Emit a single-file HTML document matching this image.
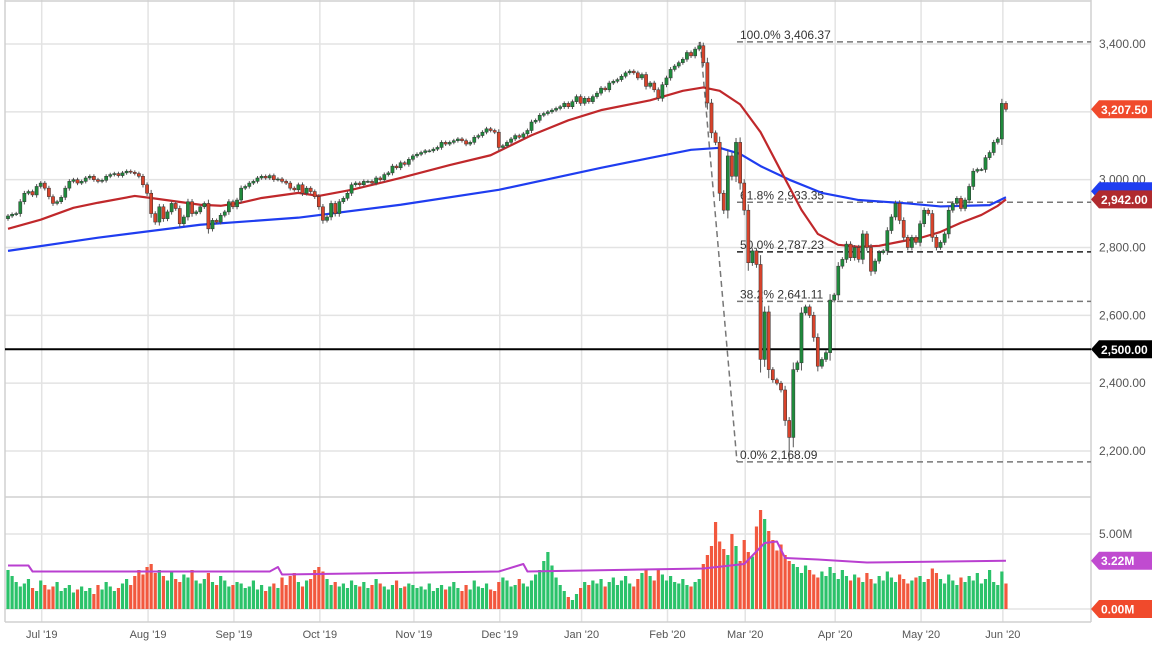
<!DOCTYPE html>
<html><head><meta charset="utf-8">
<style>
html,body{margin:0;padding:0;background:#fff;}
svg{display:block;font-family:"Liberation Sans",sans-serif;}
</style></head>
<body>
<svg id="chart" width="1157" height="651" viewBox="0 0 1157 651" xmlns="http://www.w3.org/2000/svg"></svg>
<script>
// ---- data ----
const monthLabels = ["Jul '19","Aug '19","Sep '19","Oct '19","Nov '19","Dec '19","Jan '20","Feb '20","Mar '20","Apr '20","May '20","Jun '20"];
const monthStartIndex = [8,34,55,76,99,120,140,161,180,202,223,243];
const priceTicks = [3400,3200,3000,2800,2600,2400,2200];
const volTicks = [5,0];
const closes = [
2893,2898,2900,2935,2960,2965,2955,2980,
2990,2975,2950,2930,2935,2948,2975,2995,3000,2990,2995,3005,3010,3000,2995,2998,3010,3015,3018,3012,3020,3025,3022,3018,3010,2985,
2960,2900,2875,2920,2885,2905,2930,2915,2870,2890,2935,2900,2905,2920,2930,2855,2880,2875,2895,2905,2935,
2920,2940,2975,2980,2990,2995,3005,3010,3005,3012,3000,3002,2995,2990,2975,2970,2985,2960,2975,2965,2950,
2920,2880,2890,2930,2900,2935,2945,2960,2985,2990,2985,2995,2995,2990,3005,3000,3015,3020,3040,3035,3050,3045,3060,
3070,3075,3080,3085,3085,3090,3095,3110,3105,3110,3115,3120,3115,3105,3110,3125,3130,3140,3150,3145,3140,
3095,3100,3110,3120,3130,3125,3135,3145,3170,3175,3190,3195,3200,3205,3210,3215,3225,3215,3230,3245,
3225,3240,3230,3245,3255,3270,3265,3285,3290,3295,3305,3315,3320,3315,3300,3310,3275,3285,3265,3240,3280,
3300,3325,3335,3345,3355,3375,3365,
3385,3395,3345,3226,3138,3110,2960,2910,3070,3010,3110,2990,2910,2755,2790,2750,2470,2610,2440,2410,2400,2380,2290,2240,2440,2460,2607,2625,2600,2535,2450,2470,2490,2645,2660,2745,2765,2810,2770,2800,2765,2840,2800,2730,2760,2785,2790,2850,2890,2930,2880,2830,2800,2830,2815,2870,2910,2900,2830,2800,2815,2840,2910,2930,2945,2915,2940,2980,3025,3030,3030,3065,3080,3110,3120,3225,3207.5
];
const firstOpen = 2885;
const extremeIdx = [169,191];
const extremeHigh = [3406,2300];
const extremeLow = [3380,2168];
const volumes = [
2.6,2.2,1.8,1.5,1.7,2.0,1.4,1.2,
1.9,1.6,1.3,1.5,1.8,1.2,1.4,1.6,1.1,1.3,1.5,1.2,1.4,1.0,1.6,1.3,1.8,1.5,1.2,1.4,1.7,2.0,1.6,2.2,2.6,2.3,
2.8,3.0,2.4,2.6,2.2,1.9,2.5,2.0,1.8,2.3,2.1,2.6,1.9,1.7,2.0,2.4,1.8,1.6,2.2,1.9,1.5,
1.6,1.8,1.7,1.4,1.5,1.9,1.3,1.6,1.2,1.5,1.7,1.4,2.1,1.6,2.2,2.4,1.8,1.5,1.9,2.0,2.6,
2.8,2.5,2.0,1.6,1.8,1.5,1.7,1.4,1.9,1.6,1.5,1.8,1.4,1.6,2.0,1.7,1.5,1.3,1.6,1.9,1.4,1.5,1.7,
1.6,1.4,1.5,1.3,1.7,1.2,1.4,1.6,1.3,1.5,1.8,1.4,1.2,1.6,1.3,1.9,1.5,1.4,1.7,1.3,1.2,
1.8,2.1,1.9,1.5,1.6,2.0,1.7,1.5,1.9,2.3,2.6,3.2,3.8,2.9,2.1,1.6,1.2,0.8,0.6,1.0,
1.4,1.8,1.6,1.9,1.7,2.0,1.5,1.8,2.1,1.6,1.9,2.2,1.7,1.5,2.0,2.4,2.7,2.2,1.9,2.6,2.3,
1.9,2.2,1.8,1.7,2.0,1.6,1.5,1.8,2.0,
3.0,3.6,4.2,5.8,4.5,4.0,3.6,5.0,4.2,3.2,4.6,3.8,
3.5,5.5,6.6,6.0,5.2,4.6,3.9,4.3,3.6,3.2,3.0,2.8,2.4,2.9,
2.6,2.3,2.1,2.5,2.2,2.8,2.4,2.0,2.6,2.2,1.9,2.3,2.1,1.8,2.4,2.0,1.7,2.2,1.9,2.5,2.1,1.8,2.3,2.0,1.7,1.9,2.1,
2.2,1.8,2.0,2.7,2.4,2.0,1.7,2.3,1.9,1.6,2.1,1.8,2.2,1.9,2.4,1.7,2.0,2.6,1.8,1.6,2.5,1.7
];
const ma50Idx = [0,8,16,22,31,35,47,52,57,62,71,76,84,96,108,118,128,137,145,157,165,170,174,179,184,189,194,198,203,208,213,218,223,228,233,238,242,244];
const ma50Val = [2855,2882,2917,2932,2952,2946,2926,2923,2932,2946,2961,2952,2970,3005,3043,3072,3131,3175,3205,3234,3262,3272,3262,3222,3140,3025,2911,2840,2808,2802,2805,2817,2828,2846,2873,2896,2923,2942];
const ma200Idx = [0,22,47,71,96,120,145,157,167,174,179,184,191,199,208,220,228,240,244];
const ma200Val = [2790,2829,2867,2888,2926,2970,3035,3064,3088,3094,3076,3040,3000,2961,2940,2930,2921,2925,2948];
const volMaIdx = [0,5,6,64,66,67,120,126,127,170,180,185,188,190,198,210,244];
const volMaVal = [2.9,2.9,2.5,2.5,2.8,2.3,2.5,3.0,2.5,2.7,3.0,4.4,4.5,3.4,3.3,3.1,3.22];
const fibLevels = [3406.37,2933.35,2787.23,2641.11,2168.09];
const fibNames = ["100.0%","61.8%","50.0%","38.2%","0.0%"];
const keyLevel = 2500;

// ---- scales ----
const X = i => 8 + i*4.09;
const Y = p => 44 + (3400 - p)*0.33917;
const VY = v => 609 - v*15;
const svg = document.getElementById('chart');
const NS = 'http://www.w3.org/2000/svg';
function mk(tag, attrs, parent){const e=document.createElementNS(NS,tag);for(const k in attrs)e.setAttribute(k,attrs[k]);(parent||svg).appendChild(e);return e;}
const fmt = p => p.toLocaleString('en-US',{minimumFractionDigits:2,maximumFractionDigits:2});

// grid
priceTicks.forEach(p=>{
  const l=mk('line',{x1:5,x2:1091,y1:Y(p),y2:Y(p),stroke:'#e3e3e3','stroke-width':1.5});
  
  
  const t=mk('text',{x:1099,y:Y(p)+4,'font-size':12,fill:'#555'});
  t.textContent=fmt(p);
  
  
});
volTicks.forEach(v=>{
  const l=mk('line',{x1:5,x2:1091,y1:VY(v),y2:VY(v),stroke:'#e3e3e3','stroke-width':1.5});
  
  
});
const vt=mk('text',{x:1099,y:VY(5)+4,'font-size':12,fill:'#555'});vt.textContent='5.00M';


monthStartIndex.forEach((idx,k)=>{
  const x=X(idx)+1;
  const l=mk('line',{x1:x,x2:x,y1:0,y2:622,stroke:'#e3e3e3','stroke-width':1.5});
  
  
  const t=mk('text',{x:x,y:638,'font-size':11,fill:'#555','text-anchor':'middle'});
  t.textContent=monthLabels[k];
  
  
});
// frame
[[5,0,5,622],[1091,0,1091,622],[5,497,1091,497],[5,622,1091,622],[5,1,1091,1]].forEach(a=>{
  const l=mk('line',{x1:a[0],y1:a[1],x2:a[2],y2:a[3],stroke:'#d0d0d0','stroke-width':1.5});
  
  
});

// fib lines
const peakI = closes.indexOf(Math.max(...closes));
fibLevels.forEach((lv,k)=>{
  const l=mk('line',{x1:737,x2:1091,y1:Y(lv),y2:Y(lv),stroke:k==2?'#222':'#777','stroke-width':1.5,'stroke-dasharray':'6,4'});
  
  
  const t=mk('text',{x:740,y:Y(lv)-3,'font-size':12,fill:'#333'});
  t.textContent=fibNames[k]+' '+fmt(lv);
  
  
});
const diag=mk('line',{x1:X(peakI)+1,y1:Y(fibLevels[0]),x2:737,y2:Y(fibLevels[4]),stroke:'#777','stroke-width':1.5,'stroke-dasharray':'6,4'});



// key level
const kl=mk('line',{x1:5,x2:1091,y1:Y(keyLevel),y2:Y(keyLevel),stroke:'#000','stroke-width':2});



// volume bars
closes.forEach((c,i)=>{
  const o=i?closes[i-1]:firstOpen;
  const r=mk('rect',{x:X(i)-1.6,y:VY(volumes[i]),width:3.2,height:volumes[i]*15,fill:c>=o?'#2bc26a':'#f2583e'});
  
  
});
function polyline(idx,vals,fy,color,w){
  const pts=idx.map((i,k)=>X(i)+','+fy(vals[k])).join(' ');
  return mk('polyline',{points:pts,fill:'none',stroke:color,'stroke-width':w,'stroke-linejoin':'round'});
}
const vma=polyline(volMaIdx,volMaVal,VY,'#b93fd0',2);



// moving averages
const m200=polyline(ma200Idx,ma200Val,Y,'#1f3df0',2.2);


const m50=polyline(ma50Idx,ma50Val,Y,'#c0282b',2.2);



// candles
closes.forEach((c,i)=>{
  const o=i?closes[i-1]:firstOpen;
  const up=c>=o;
  const body=Math.abs(c-o);
  let hi=Math.max(o,c)+5+body*0.08, lo=Math.min(o,c)-5-body*0.12;
  const ek=extremeIdx.indexOf(i);
  if(ek>=0){hi=Math.max(hi,extremeHigh[ek]);lo=Math.min(lo,extremeLow[ek]);}
  const g=mk('g',{});
  
  
  mk('line',{x1:X(i),x2:X(i),y1:Y(hi),y2:Y(lo),stroke:'#555','stroke-width':1},g);
  const top=Y(Math.max(o,c)), h=Math.max(1,Y(Math.min(o,c))-top);
  mk('rect',{x:X(i)-1.6,y:top,width:3.2,height:h,fill:up?'#1f8a3c':'#d8432b',stroke:'#333','stroke-width':0.5},g);
});

// right tags
function tag(y,text,color,name){
  const g=mk('g',{});
  
  
  mk('polygon',{points:`1091,${y} 1099,${y-9} 1152,${y-9} 1152,${y+9} 1099,${y+9}`,fill:color},g);
  const t=mk('text',{x:1101,y:y+4.5,'font-size':12,'font-weight':'bold',fill:'#fff'},g);
  t.textContent=text;
}
tag(Y(ma200Val[ma200Val.length-1])-6,'',"#1f3df0",'sma-200-tag');
tag(Y(closes[closes.length-1]),fmt(closes[closes.length-1]),'#f04a2c','last-price-tag');
tag(Y(ma50Val[ma50Val.length-1]),fmt(ma50Val[ma50Val.length-1]),'#b02a2e','sma-50-tag');
tag(Y(keyLevel),fmt(keyLevel),'#000','support-level-tag');
tag(VY(volMaVal[volMaVal.length-1]),volMaVal[volMaVal.length-1].toFixed(2)+'M','#c04bd0','volume-ma-tag');
tag(VY(0),'0.00M','#f04a2c','volume-zero-tag');
</script>
</body></html>
